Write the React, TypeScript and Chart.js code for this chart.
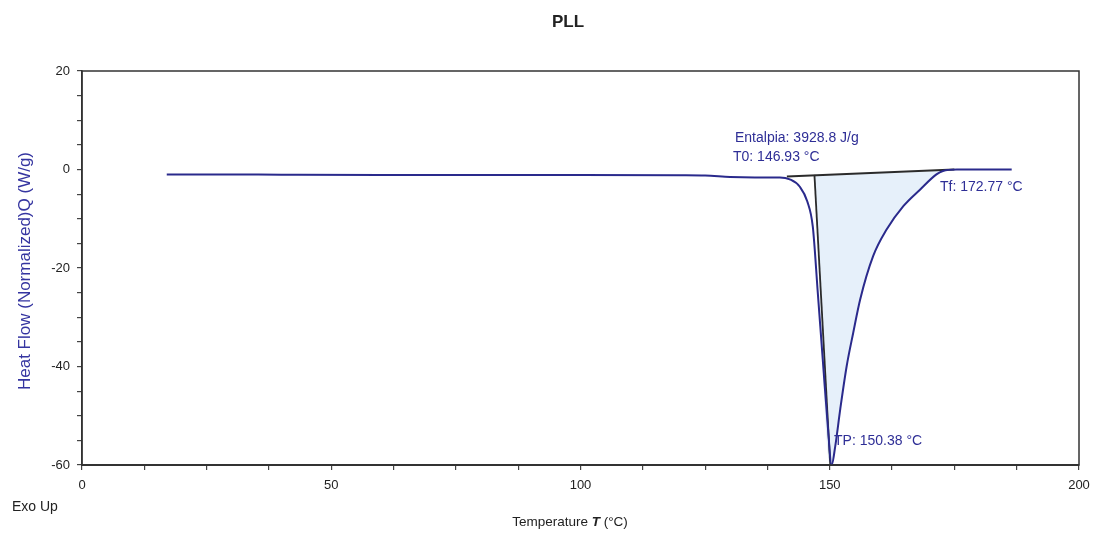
import React, { useEffect, useRef } from "react";
import { Chart, registerables } from "chart.js";

Chart.register(...registerables);

// DSC curve (Temperature °C, Heat Flow W/g)
const temps = [17, 28, 40, 60, 80, 100, 120, 125, 130, 135, 140, 142, 144, 145.5, 146.6, 147.6, 148.6, 149.6, 150.38, 151.1, 152.1, 153.4, 154.7, 156.1, 158.7, 161.4, 164.8, 168.1, 171.4, 172.7, 175.5, 180, 186.5];
const heatFlow = [-1.0, -1.0, -1.05, -1.1, -1.1, -1.1, -1.15, -1.2, -1.5, -1.6, -1.6, -2.0, -3.5, -6.5, -11.6, -25, -38.6, -52, -60, -56.2, -48.7, -39.9, -33.2, -26.4, -17.6, -12.2, -7.4, -4.1, -1.0, -0.3, 0, 0, 0];

// Integration baseline and onset tangent
const baselineX = [141.4, 175];
const baselineY = [-1.4, 0];
const onsetX = [146.93, 150.1];
const onsetY = [-1.1, -60];

const peakT = 150.38;

const labels = {
  title: "PLL",
  yTitle: "Heat Flow (Normalized)Q (W/g)",
  xTitle: "Temperature ",
  xTitleItalic: "T",
  xTitleEnd: " (°C)",
  exo: "Exo Up",
  enthalpy: "Entalpia: 3928.8 J/g",
  t0: "T0: 146.93 °C",
  tf: "Tf: 172.77 °C",
  tp: "TP: 150.38 °C",
};

const FONT = "'Liberation Sans', Arial, sans-serif";
const BLUE = "#2e2e96";

export default function App() {
  const ref = useRef<HTMLCanvasElement>(null);

  useEffect(() => {
    const ctx = ref.current!.getContext("2d")!;
    const curve = temps.map((t, i) => ({ x: t, y: heatFlow[i] }));
    const rightBranch = curve.filter((p) => p.x >= peakT && p.x <= baselineX[1]).reverse();
    const poly = [
      { x: onsetX[0], y: onsetY[0] },
      { x: baselineX[1], y: baselineY[1] },
      ...rightBranch,
      { x: onsetX[1], y: onsetY[1] },
      { x: onsetX[0], y: onsetY[0] },
    ];

    const textPlugin = {
      id: "texts",
      afterDraw(chart: any) {
        const c = chart.ctx;
        const a = chart.chartArea;
        c.save();
        c.strokeStyle = "#333";
        c.lineWidth = 1.5;
        c.strokeRect(a.left, a.top, a.right - a.left, a.bottom - a.top);

        c.fillStyle = "#222";
        c.font = `bold 17px ${FONT}`;
        c.textAlign = "center";
        c.textBaseline = "middle";
        c.fillText(labels.title, 568, 22);

        // x title
        const fs = 13.5;
        c.font = `${fs}px ${FONT}`;
        const w1 = c.measureText(labels.xTitle).width;
        c.font = `italic bold ${fs}px ${FONT}`;
        const w2 = c.measureText(labels.xTitleItalic).width;
        c.font = `${fs}px ${FONT}`;
        const w3 = c.measureText(labels.xTitleEnd).width;
        const x0 = 570 - (w1 + w2 + w3) / 2;
        c.textAlign = "left";
        c.fillText(labels.xTitle, x0, 522);
        c.font = `italic bold ${fs}px ${FONT}`;
        c.fillText(labels.xTitleItalic, x0 + w1, 522);
        c.font = `${fs}px ${FONT}`;
        c.fillText(labels.xTitleEnd, x0 + w1 + w2, 522);

        c.font = `14px ${FONT}`;
        c.fillText(labels.exo, 12, 507);

        // y title
        c.save();
        c.translate(25, 271);
        c.rotate(-Math.PI / 2);
        c.textAlign = "center";
        c.fillStyle = "#3535a0";
        c.font = `17px ${FONT}`;
        c.fillText(labels.yTitle, 0, 0);
        c.restore();

        // annotations
        c.fillStyle = BLUE;
        c.font = `14px ${FONT}`;
        c.textAlign = "left";
        c.fillText(labels.enthalpy, 735, 138);
        c.fillText(labels.t0, 733, 157);
        c.fillText(labels.tf, 940, 187);
        c.fillText(labels.tp, 834, 441);
        c.restore();
      },
    };

    const chart = new Chart(ctx, {
      type: "scatter",
      data: {
        datasets: [
          {
            data: curve,
            showLine: true,
            borderColor: "#2a2a8c",
            borderWidth: 2,
            pointRadius: 0,
            cubicInterpolationMode: "monotone",
            order: 0,
          } as any,
          {
            data: baselineX.map((x, i) => ({ x, y: baselineY[i] })),
            showLine: true,
            borderColor: "#2b2b2b",
            borderWidth: 2,
            pointRadius: 0,
            order: 1,
          },
          {
            data: onsetX.map((x, i) => ({ x, y: onsetY[i] })),
            showLine: true,
            borderColor: "#2b2b2b",
            borderWidth: 1.8,
            pointRadius: 0,
            order: 1,
          },
          {
            data: poly,
            showLine: true,
            borderWidth: 0,
            borderColor: "rgba(0,0,0,0)",
            backgroundColor: "#e6f0fa",
            fill: "shape",
            pointRadius: 0,
            cubicInterpolationMode: "monotone",
            order: 2,
          } as any,
        ],
      },
      options: {
        animation: false,
        responsive: false,
        layout: { padding: { left: 0, top: 71, right: 15, bottom: 0 } },
        plugins: { legend: { display: false }, tooltip: { enabled: false } },
        scales: {
          x: {
            type: "linear",
            min: 0,
            max: 200,
            afterFit: (s: any) => {
              s.height = 69;
              s.paddingLeft = 0;
              s.paddingRight = 0;
            },
            ticks: {
              stepSize: 12.5,
              autoSkip: false,
              maxRotation: 0,
              padding: 8,
              color: "#222",
              font: { family: FONT, size: 13 },
              callback: (v: any) => (Number(v) % 50 === 0 ? String(v) : ""),
            },
            grid: { drawOnChartArea: false, tickLength: 5, color: "#444", lineWidth: 1.2 },
            border: { color: "#333", width: 2 },
          },
          y: {
            min: -60,
            max: 20,
            afterFit: (s: any) => {
              s.width = 82;
              s.paddingTop = 0;
              s.paddingBottom = 0;
            },
            ticks: {
              stepSize: 5,
              autoSkip: false,
              padding: 7,
              color: "#222",
              font: { family: FONT, size: 13 },
              callback: (v: any) => (Number(v) % 20 === 0 ? String(v) : ""),
            },
            grid: { drawOnChartArea: false, tickLength: 5, color: "#444", lineWidth: 1.2 },
            border: { color: "#333", width: 1.5 },
          },
        },
      },
      plugins: [textPlugin],
    });
    return () => chart.destroy();
  }, []);

  return (
    <div style={{ position: "fixed", left: 0, top: 0, width: 1094, height: 534, background: "#fff" }}>
      <canvas ref={ref} width={1094} height={534} />
    </div>
  );
}
